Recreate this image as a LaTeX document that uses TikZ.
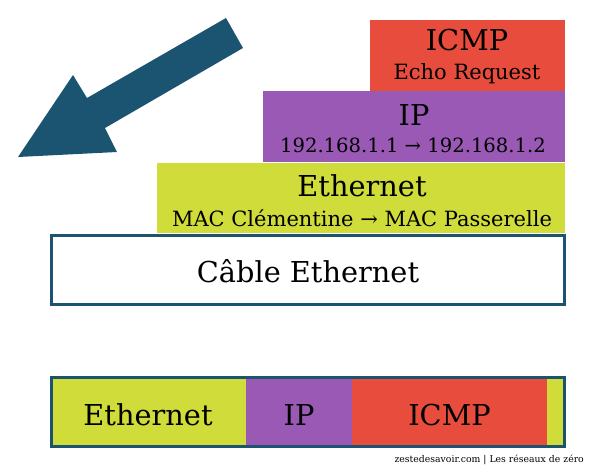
\documentclass[tikz,border=0pt]{standalone}
\usepackage{fontspec}
\setmainfont{DejaVu Serif}
\definecolor{cred}{HTML}{E74C3C}
\definecolor{cpurple}{HTML}{9B59B6}
\definecolor{clime}{HTML}{CFDC3A}
\definecolor{cteal}{HTML}{1B5470}
\begin{document}
\begin{tikzpicture}[x=1pt,y=-1pt,
  big/.style={font=\fontsize{28.8}{32}\selectfont, anchor=base, inner sep=0pt},
  small/.style={font=\fontsize{21}{24}\selectfont, anchor=base, inner sep=0pt},
  foot/.style={font=\fontsize{9.3}{11}\selectfont, anchor=base east, inner sep=0pt}]
\useasboundingbox (0,0) rectangle (600,467);
% big arrow
\fill[cteal] (18,157) -- (73,75) -- (87,98) -- (226,18) -- (243,48) -- (105,128) -- (117,152) -- cycle;
% layers
\fill[cred] (370,20) rectangle (565,91);
\node[big] (icmpT) at (467,50) {ICMP};
\node[small] (icmpS) at (467,79) {Echo Request};
\fill[cpurple] (263,91) rectangle (565,162);
\node[big] (ipT) at (414,125) {IP};
\node[small, font=\fontsize{19.6}{23}\selectfont] (ipS) at (413,152) {192.168.1.1 → 192.168.1.2};
\fill[clime] (157,163) rectangle (565,233);
\node[big] (ethT) at (362,196) {Ethernet};
\node[small] (ethS) at (362,226) {MAC Clémentine → MAC Passerelle};
\draw[cteal, line width=3pt, fill=white] (51,235.5) rectangle (564,304);
\node[big] (cable) at (308,282) {Câble Ethernet};
% bottom frame
\fill[clime] (51,377) rectangle (246,446);
\fill[cpurple] (246,377) rectangle (352,446);
\fill[cred] (352,377) rectangle (547,446);
\fill[clime] (547,377) rectangle (564,446);
\draw[cteal, line width=3pt] (51,377) rectangle (564,446);
\node[big] (bEth) at (148,425) {Ethernet};
\node[big] (bIP) at (299,425) {IP};
\node[big] (bICMP) at (449.5,425) {ICMP};
\node[foot] (footer) at (584,462) {zestedesavoir.com | Les réseaux de zéro};
\end{tikzpicture}
\end{document}
